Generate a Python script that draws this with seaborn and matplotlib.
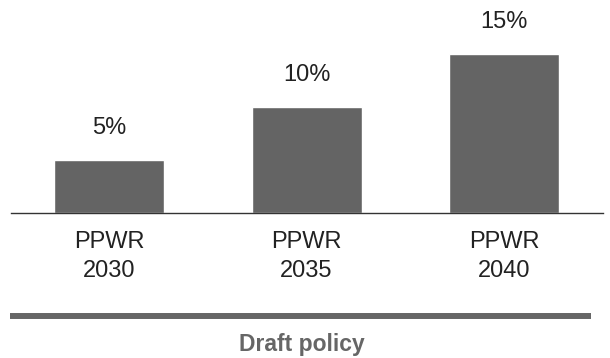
import matplotlib
matplotlib.use("Agg")
import matplotlib.pyplot as plt
from matplotlib.lines import Line2D
import seaborn as sns
import pandas as pd

# Recycled-content targets under the draft PPWR
years = ["2030", "2035", "2040"]
targets = [5, 10, 15]
tick_labels = ["PPWR\n2030", "PPWR\n2035", "PPWR\n2040"]
footer = "Draft policy"

sns.set_theme(style="white")
plt.rcParams["font.family"] = ["Liberation Sans", "DejaVu Sans"]

W, H = 610, 358
fig = plt.figure(figsize=(W / 100, H / 100), dpi=100)
fig.patch.set_facecolor("white")

ax = fig.add_axes([11 / W, (H - 213) / H, (603 - 11) / W, 213 / H])

df = pd.DataFrame({"label": tick_labels, "target": targets})
sns.barplot(data=df, x="label", y="target", color="#646464", saturation=1,
            width=0.557, ax=ax)

ax.set_xlim(-0.496, 2.5)
ax.set_ylim(0, 20.1)

for i, v in enumerate(targets):
    ax.annotate(f"{v}%", (i, v), xytext=(0, 19), textcoords="offset points",
                ha="center", va="baseline", fontsize=17, color="#222222")

ax.set_xlabel("")
ax.set_ylabel("")
ax.set_yticks([])
ax.tick_params(axis="x", length=0, pad=13, labelsize=17, labelcolor="#222222")
for lbl in ax.get_xticklabels():
    lbl.set_linespacing(1.38)
for s in ["top", "right", "left"]:
    ax.spines[s].set_visible(False)
ax.spines["bottom"].set_color("#333333")
ax.spines["bottom"].set_linewidth(1.0)

# Policy-status band under the categories
fig.add_artist(Line2D([10 / W, 591 / W], [(H - 316) / H] * 2,
                      transform=fig.transFigure, color="#666666",
                      linewidth=4.3, solid_capstyle="butt"))
fig.text(302 / W, (H - 351.5) / H, footer, ha="center", va="baseline",
         fontsize=16.5, fontweight="bold", color="#666666")

fig.savefig("out.png", dpi=100)
